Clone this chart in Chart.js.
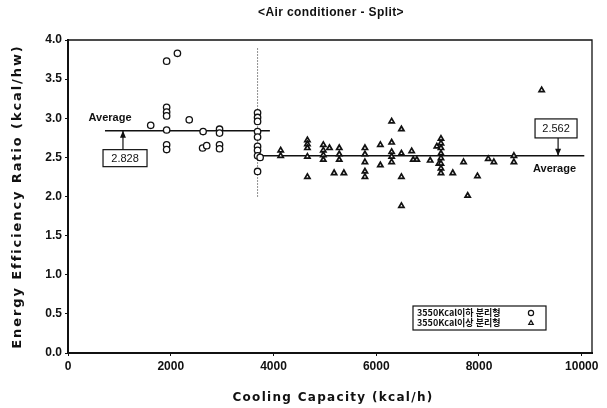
<!DOCTYPE html>
<html>
<head>
<meta charset="utf-8">
<script src="https://cdn.jsdelivr.net/npm/chart.js@4/dist/chart.umd.min.js"></script>
<style>
  html, body { margin: 0; padding: 0; background: #fff; }
  #wrap { width: 607px; height: 408px; }
</style>
</head>
<body>
<div id="wrap"><canvas id="chart"></canvas></div>
<script>
// values
const chartTitle = '<Air conditioner - Split>';
const xTitle = 'Cooling Capacity (kcal/h)';
const yTitle = 'Energy Efficiency Ratio (kcal/hw)';
const xTicks = [0, 2000, 4000, 6000, 8000, 10000];
const yTicks = [0, 0.5, 1.0, 1.5, 2.0, 2.5, 3.0, 3.5, 4.0];

const smallLabel = '3550Kcal이하 분리형';
const smallX = [1920, 2130, 1920, 1920, 1920, 1920, 1920, 1920, 1610, 2360, 2630, 2620, 2700,
  2950, 2950, 2950, 2950, 3690, 3690, 3690, 3690, 3690, 3690, 3690, 3690, 3690, 3740];
const smallY = [3.73, 3.83, 3.14, 3.08, 3.03, 2.85, 2.66, 2.60, 2.91, 2.98, 2.83, 2.62, 2.65,
  2.86, 2.81, 2.66, 2.61, 3.07, 3.01, 2.96, 2.83, 2.76, 2.64, 2.59, 2.52, 2.32, 2.50];

const largeLabel = '3550Kcal이상 분리형';
const largeX = [4140, 4140, 4660, 4660, 4660, 4660, 4660, 4970, 4970, 4970, 4970, 5090, 5180, 5370,
  5280, 5280, 5280, 5780, 5780, 5780, 5780, 5780, 6080, 6080, 6300, 6300, 6300, 6300, 6300,
  6490, 6490, 6490, 6490, 6690, 6720, 6790, 7050, 7180, 7220,
  7260, 7260, 7260, 7260, 7260, 7260, 7260, 7260, 7490, 7700, 7780, 7970, 8180, 8290, 8680, 8680, 9220];
const largeY = [2.59, 2.52, 2.72, 2.67, 2.62, 2.51, 2.25, 2.66, 2.59, 2.53, 2.47, 2.62, 2.30, 2.30,
  2.62, 2.54, 2.47, 2.62, 2.54, 2.44, 2.32, 2.25, 2.66, 2.40, 2.96, 2.69, 2.57, 2.51, 2.44,
  2.86, 2.55, 2.25, 1.88, 2.58, 2.47, 2.47, 2.46, 2.64, 2.42,
  2.74, 2.68, 2.62, 2.55, 2.49, 2.42, 2.36, 2.30, 2.30, 2.44, 2.01, 2.26, 2.48, 2.44, 2.52, 2.44, 3.36];

const avgSmallX = [720, 3930];
const avgSmallY = 2.84;
const avgSmallText = '2.828';
const avgLargeX = [3700, 10050];
const avgLargeY = 2.52;
const avgLargeText = '2.562';
const splitX = 3690;
const splitY = [2.0, 3.9];

const toPoints = (xs, ys) => xs.map((x, i) => ({ x: x, y: ys[i] }));

const tickFont = { family: 'Liberation Sans', size: 12, weight: 'bold' };

// titles (spaced out like the scan), frame, average labels and the legend box
const extras = {
  id: 'extras',
  afterDatasetsDraw(chart) {
    const { ctx, chartArea: a, scales: { x, y } } = chart;
    ctx.save();
    ctx.strokeStyle = '#111';
    ctx.lineWidth = 1.3;
    ctx.beginPath();
    ctx.moveTo(a.left, a.top);
    ctx.lineTo(a.right, a.top);
    ctx.lineTo(a.right, a.bottom);
    ctx.stroke();

    ctx.fillStyle = '#111';
    ctx.textBaseline = 'middle';
    ctx.textAlign = 'center';
    const cx = (a.left + a.right) / 2;
    ctx.letterSpacing = '0.4px';
    ctx.font = 'bold 12px "Liberation Sans"';
    ctx.fillText(chartTitle, cx + 1, 13);
    ctx.letterSpacing = '1.3px';
    ctx.font = 'bold 12px "DejaVu Sans"';
    ctx.fillText(xTitle, cx + 3, 398);
    ctx.save();
    ctx.translate(18, (a.top + a.bottom) / 2);
    ctx.rotate(-Math.PI / 2);
    ctx.letterSpacing = '1.9px';
    ctx.font = 'bold 13px "DejaVu Sans"';
    ctx.fillText(yTitle, 0, 0);
    ctx.restore();
    ctx.letterSpacing = '0px';

    ctx.font = 'bold 11px "Liberation Sans"';
    ctx.textAlign = 'left';
    ctx.fillText('Average', x.getPixelForValue(400), y.getPixelForValue(3.0));
    ctx.textAlign = 'center';
    ctx.fillText('Average', x.getPixelForValue(9470), y.getPixelForValue(2.35));

    const box = (bx, by, w, h, t) => {
      const px = x.getPixelForValue(bx), py = y.getPixelForValue(by);
      ctx.fillStyle = '#fff';
      ctx.fillRect(px - w / 2, py - h / 2, w, h);
      ctx.lineWidth = 1.2;
      ctx.strokeRect(px - w / 2, py - h / 2, w, h);
      ctx.fillStyle = '#111';
      ctx.font = '11px "Liberation Sans"';
      ctx.textAlign = 'center';
      ctx.fillText(t, px, py + 1);
      return { top: py - h / 2, bottom: py + h / 2 };
    };
    const arrow = (vx, y0, y1) => {
      const px = x.getPixelForValue(vx);
      const dir = y1 > y0 ? 1 : -1;
      ctx.lineWidth = 1.2;
      ctx.beginPath();
      ctx.moveTo(px, y0);
      ctx.lineTo(px, y1);
      ctx.stroke();
      ctx.beginPath();
      ctx.moveTo(px, y1);
      ctx.lineTo(px - 3, y1 - dir * 7);
      ctx.lineTo(px + 3, y1 - dir * 7);
      ctx.closePath();
      ctx.fill();
    };
    const b1 = box(1110, 2.49, 44, 17, avgSmallText);
    arrow(1070, b1.top, y.getPixelForValue(avgSmallY));
    const b2 = box(9500, 2.87, 42, 19, avgLargeText);
    arrow(9540, b2.bottom, y.getPixelForValue(avgLargeY));

    // legend
    const lx = a.right - 179, ly = a.bottom - 47, lw = 133, lh = 24;
    ctx.lineWidth = 1.2;
    ctx.strokeRect(lx, ly, lw, lh);
    ctx.font = 'bold 9px "Noto Sans CJK KR"';
    ctx.textAlign = 'left';
    [0, 1].forEach(i => {
      const ds = chart.data.datasets[i];
      const ty = ly + 7 + i * 10;
      ctx.fillStyle = '#111';
      ctx.fillText(ds.label, lx + 4, ty);
      ctx.fillStyle = '#fff';
      ctx.strokeStyle = '#111';
      Chart.helpers.drawPoint(ctx, { pointStyle: ds.pointStyle, radius: 2.6, borderWidth: 1.2 }, lx + 118, ty);
    });
    ctx.restore();
  }
};

new Chart(document.getElementById('chart'), {
  type: 'scatter',
  data: {
    datasets: [
      {
        label: smallLabel,
        data: toPoints(smallX, smallY),
        pointStyle: 'circle',
        pointRadius: 3.2,
        pointBorderWidth: 1.3,
        borderColor: '#111',
        backgroundColor: '#fff'
      },
      {
        label: largeLabel,
        data: toPoints(largeX, largeY),
        pointStyle: 'triangle',
        pointRadius: 3,
        pointBorderWidth: 1.7,
        borderColor: '#111',
        backgroundColor: '#fff'
      },
      {
        type: 'line',
        data: toPoints(avgSmallX, [avgSmallY, avgSmallY]),
        borderColor: '#111',
        borderWidth: 1.5,
        pointRadius: 0
      },
      {
        type: 'line',
        data: toPoints(avgLargeX, [avgLargeY, avgLargeY]),
        borderColor: '#111',
        borderWidth: 1.5,
        pointRadius: 0
      },
      {
        type: 'line',
        data: toPoints([splitX, splitX], splitY),
        borderColor: '#222',
        borderWidth: 1,
        borderDash: [1, 2],
        pointRadius: 0
      }
    ]
  },
  options: {
    responsive: true,
    maintainAspectRatio: false,
    animation: false,
    layout: { padding: { left: 4, right: 15, top: 40, bottom: 0 } },
    plugins: {
      legend: { display: false },
      tooltip: { enabled: false },
      title: { display: false }
    },
    scales: {
      x: {
        type: 'linear',
        min: 0,
        max: 10200,
        afterBuildTicks: s => { s.ticks = xTicks.map(v => ({ value: v })); },
        afterFit: s => { s.height = 55; },
        grid: { display: true, drawOnChartArea: false, tickLength: 3, color: '#111' },
        border: { display: true, color: '#111', width: 2 },
        ticks: { color: '#111', font: tickFont, padding: 3, maxRotation: 0, callback: v => String(v) }
      },
      y: {
        min: 0,
        max: 4,
        afterBuildTicks: s => { s.ticks = yTicks.map(v => ({ value: v })); },
        afterFit: s => { s.width = 64; },
        grid: { display: true, drawOnChartArea: false, tickLength: 3, color: '#111' },
        border: { display: true, color: '#111', width: 2 },
        ticks: { color: '#111', font: tickFont, padding: 3, callback: v => v.toFixed(1) }
      }
    }
  },
  plugins: [extras]
});
</script>
</body>
</html>
